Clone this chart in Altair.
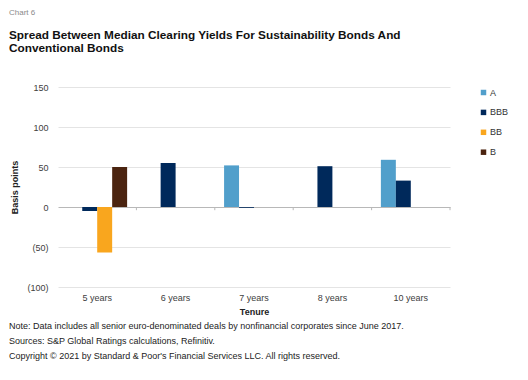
import altair as alt
import pandas as pd

tenures = ["5 years", "6 years", "7 years", "8 years", "10 years"]
ratings = ["A", "BBB", "BB", "B"]
colors = ["#519FCB", "#00295B", "#F9A61E", "#4B2410"]

a_vals = [None, None, 52, None, 59]
bbb_vals = [-5, 55, -1, 51, 33]
bb_vals = [-57, None, None, None, None]
b_vals = [50, None, None, None, None]

y_ticks = [-100, -50, 0, 50, 100, 150]

notes = [
    "Note: Data includes all senior euro-denominated deals by nonfinancial corporates since June 2017.",
    "Sources: S&P Global Ratings calculations, Refinitiv.",
    "Copyright \u00a9 2021 by Standard & Poor's Financial Services LLC. All rights reserved.",
]

rows = []
for r, vals in zip(ratings, [a_vals, bbb_vals, bb_vals, b_vals]):
    for t, v in zip(tenures, vals):
        if v is not None:
            rows.append({"tenure": t, "rating": r, "value": v})
df = pd.DataFrame(rows)

FONT = "Liberation Sans"

xscale = alt.Scale(domain=tenures, paddingInner=0, paddingOuter=0)
yscale = alt.Scale(domain=[-100, 150], nice=False)

xaxis = alt.Axis(title="Tenure", labelAngle=0, ticks=False, domain=False, grid=False,
                 labelFontSize=9, labelColor="#404040", labelPadding=6,
                 titleFontSize=9, titleFontWeight="bold", titleColor="#222222",
                 titlePadding=5, labelFont=FONT, titleFont=FONT)
yaxis = alt.Axis(title="Basis points", values=y_ticks, tickCount=6, ticks=False, domain=False,
                 labelOverlap=False, grid=True,
                 labelExpr="datum.value < 0 ? '(' + abs(datum.value) + ')' : '' + datum.value",
                 labelFontSize=9, labelColor="#404040", labelPadding=10,
                 gridColor={"condition": {"test": "datum.value === 0", "value": "#b8b8b8"},
                            "value": "#e4e4e4"},
                 gridWidth=1,
                 titleFontSize=9, titleFontWeight="bold", titleColor="#222222",
                 titlePadding=7, labelFont=FONT, titleFont=FONT)

bars = alt.Chart(df).mark_bar(stroke=None).encode(
    x=alt.X("tenure:N", scale=xscale, sort=tenures, axis=xaxis),
    xOffset=alt.XOffset("rating:N", scale=alt.Scale(domain=ratings, paddingInner=0, paddingOuter=0.62)),
    y=alt.Y("value:Q", scale=yscale, axis=yaxis),
    color=alt.Color("rating:N", scale=alt.Scale(domain=ratings, range=colors),
                    legend=alt.Legend(title=None, orient="none", legendX=421, legendY=1,
                                      symbolType="square", symbolSize=30, symbolStrokeWidth=0,
                                      labelFontSize=9, labelColor="#333333", labelFont=FONT,
                                      rowPadding=9.9, labelOffset=2)),
)

ticks = alt.Chart(pd.DataFrame({"tenure": tenures})).mark_rule(color="#b8b8b8", strokeWidth=1).encode(
    x=alt.X("tenure:N", bandPosition=1, sort=tenures, scale=xscale, axis=xaxis),
    y=alt.datum(0),
    y2=alt.datum(-4),
)

foot = alt.Chart(pd.DataFrame({"t": ["\n".join(notes)]})).mark_text(
    align="left", baseline="middle", fontSize=9, font=FONT, color="#222222",
    lineBreak="\n", lineHeight=15,
).encode(x=alt.value(-49), y=alt.value(239), text="t:N")

chart = alt.layer(bars, ticks, foot).properties(
    width=392, height=200,
    autosize=alt.AutoSizeParams(type="none"),
    padding={"left": 50, "top": 79, "right": 70, "bottom": 85},
    title=alt.TitleParams(
        text="Chart 6",
        subtitle=["Spread Between Median Clearing Yields For Sustainability Bonds And",
                  "Conventional Bonds"],
        anchor="start", frame="group", dx=-49, offset=28,
        font=FONT, fontSize=8, fontWeight="normal", color="#8a8a8a",
        subtitleFont=FONT, subtitleFontSize=11.8, subtitleFontWeight="bold",
        subtitleColor="#111111", subtitlePadding=13, subtitleLineHeight=13,
    ),
).configure(
    background="white",
    view=alt.ViewConfig(stroke=None, strokeWidth=0),
    axis=alt.AxisConfig(labelOverlap=False),
)

chart.save("out.html", embed_options={"renderer": "svg", "actions": False})
